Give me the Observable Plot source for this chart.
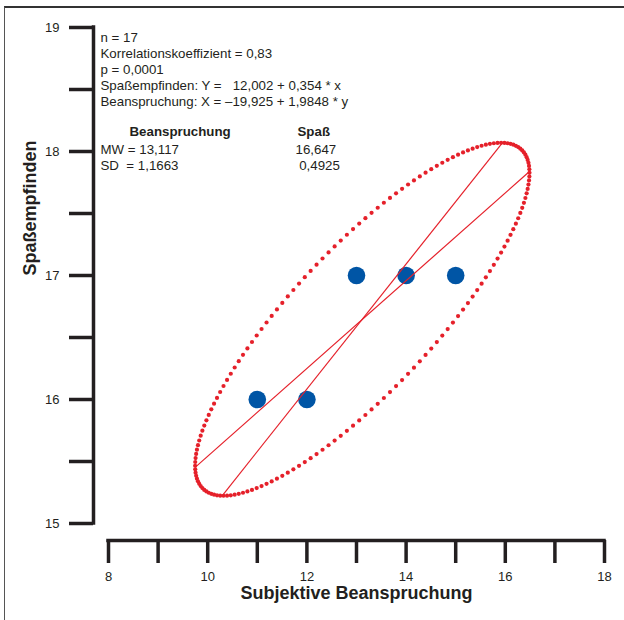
<!DOCTYPE html>
<html>
<head>
<meta charset="utf-8">
<script src="https://cdn.jsdelivr.net/npm/d3@7"></script>
<script src="https://cdn.jsdelivr.net/npm/@observablehq/plot@0.6"></script>
<style>
  html, body { margin: 0; padding: 0; background: #fff; }
  #wrap { position: relative; width: 624px; height: 620px; overflow: hidden; }
  #border { position: absolute; left: 4px; top: 6px; width: 700px; height: 700px;
            border-left: 1.5px solid #555; border-top: 2px solid #333; pointer-events: none; }
</style>
</head>
<body>
<div id="wrap"><div id="border"></div></div>
<script>
// Data points (Subjektive Beanspruchung, Spaßempfinden)
const beanspruchung = [11, 12, 13, 14, 15];
const spass = [16, 16, 17, 17, 17];

// Statistics from the chart
const meanX = 13.117, meanY = 16.647;
const sdX = 1.1663, sdY = 0.4925;
const corr = 0.83;
const ellipseScale = 2.89;
const ellipseDots = 170;
const regYonX = {a: 12.002, b: 0.354};    // Y = a + b*x
const regXonY = {a: -19.925, b: 1.9848};  // X = a + b*y

// Tick values
const xTicks = [8, 9, 10, 11, 12, 13, 14, 15, 16, 17, 18];
const yTicks = [15, 15.5, 16, 16.5, 17, 17.5, 18, 18.5, 19];

// Annotation text
const infoLines = [
  "n = 17",
  "Korrelationskoeffizient = 0,83",
  "p = 0,0001",
  "Spaßempfinden: Y = \u00A0\u00A012,002 + 0,354 * x",
  "Beanspruchung: X = \u201319,925 + 1,9848 * y",
  "",
  "",
  "MW = 13,117",
  "SD \u00A0= 1,1663"
];
const headLeft = "Beanspruchung";
const headRight = "Spaß";
const rightVals = ["16,647", "\u00A00,4925"];

const points = beanspruchung.map((x, i) => ({x, y: spass[i]}));

const ellipse = d3.range(ellipseDots).map(i => {
  const t = 2 * Math.PI * i / ellipseDots;
  return {
    x: meanX + ellipseScale * sdX * Math.cos(t),
    y: meanY + ellipseScale * sdY * (corr * Math.cos(t) + Math.sqrt(1 - corr * corr) * Math.sin(t))
  };
});

const xl = meanX - ellipseScale * sdX, xr = meanX + ellipseScale * sdX;
const yb = meanY - ellipseScale * sdY, yt = meanY + ellipseScale * sdY;
const regLines = [
  {x1: xl, y1: regYonX.a + regYonX.b * xl, x2: xr, y2: regYonX.a + regYonX.b * xr},
  {x1: regXonY.a + regXonY.b * yb, y1: yb, x2: regXonY.a + regXonY.b * yt, y2: yt}
];

const ink = "#231f20";
const red = "#e5202a";
const blue = "#0055a5";
const fs = 13.3;

const chart = Plot.plot({
  width: 624,
  height: 620,
  marginLeft: 108,
  marginRight: 20,
  marginTop: 27,
  marginBottom: 97,
  style: {fontFamily: "'Liberation Sans', Arial, sans-serif", background: "transparent", color: ink},
  x: {domain: [8, 18], range: [108, 604]},
  y: {domain: [15, 19], range: [523, 27]},
  marks: [
    // y axis
    Plot.ruleX([8], {y1: 15, y2: 19, dx: -15, stroke: ink, strokeWidth: 3.5, strokeLinecap: "square"}),
    Plot.axisY(yTicks, {anchor: "left", dx: -15, tickSize: 24, tickPadding: 10, strokeWidth: 3.5,
      tickFormat: d => Number.isInteger(d) ? d : "", fontSize: 13, label: null, color: ink}),
    // x axis
    Plot.ruleY([15], {x1: 8, x2: 18, dy: 17, stroke: ink, strokeWidth: 3.5, strokeLinecap: "square"}),
    Plot.axisX(xTicks, {anchor: "bottom", dy: 17, tickSize: 23, tickPadding: 8, strokeWidth: 3.5,
      tickFormat: d => d % 2 === 0 ? d : "", fontSize: 13, label: null, color: ink}),
    // axis titles
    Plot.text(["Spaßempfinden"], {frameAnchor: "left", dx: -78, rotate: -90, fontSize: 18, fontWeight: "bold", fill: ink}),
    Plot.text(["Subjektive Beanspruchung"], {frameAnchor: "bottom", dy: 75, fontSize: 18, fontWeight: "bold", fill: ink}),
    // annotations
    Plot.text([infoLines.join("\n")], {frameAnchor: "top-left", lineAnchor: "top", textAnchor: "start",
      dx: -8, dy: 3, fontSize: fs, lineHeight: 16 / fs, fill: ink}),
    Plot.text([headLeft], {frameAnchor: "top-left", lineAnchor: "top", textAnchor: "start",
      dx: 21, dy: 99, fontSize: fs, fontWeight: "bold", fill: ink}),
    Plot.text([headRight], {frameAnchor: "top-left", lineAnchor: "top", textAnchor: "start",
      dx: 189, dy: 99, fontSize: fs, fontWeight: "bold", fill: ink}),
    Plot.text([rightVals.join("\n")], {frameAnchor: "top-left", lineAnchor: "top", textAnchor: "start",
      dx: 187, dy: 115, fontSize: fs, lineHeight: 16 / fs, fill: ink}),
    // data
    Plot.dot(points, {x: "x", y: "y", r: 8.8, fill: blue, stroke: "none"}),
    Plot.dot(ellipse, {x: "x", y: "y", r: 2.1, fill: red, stroke: "none"}),
    Plot.link(regLines, {x1: "x1", y1: "y1", x2: "x2", y2: "y2", stroke: red, strokeWidth: 1.2})
  ]
});

document.getElementById("wrap").prepend(chart);
chart.style.position = "absolute";
chart.style.left = "0";
chart.style.top = "0";
</script>
</body>
</html>
